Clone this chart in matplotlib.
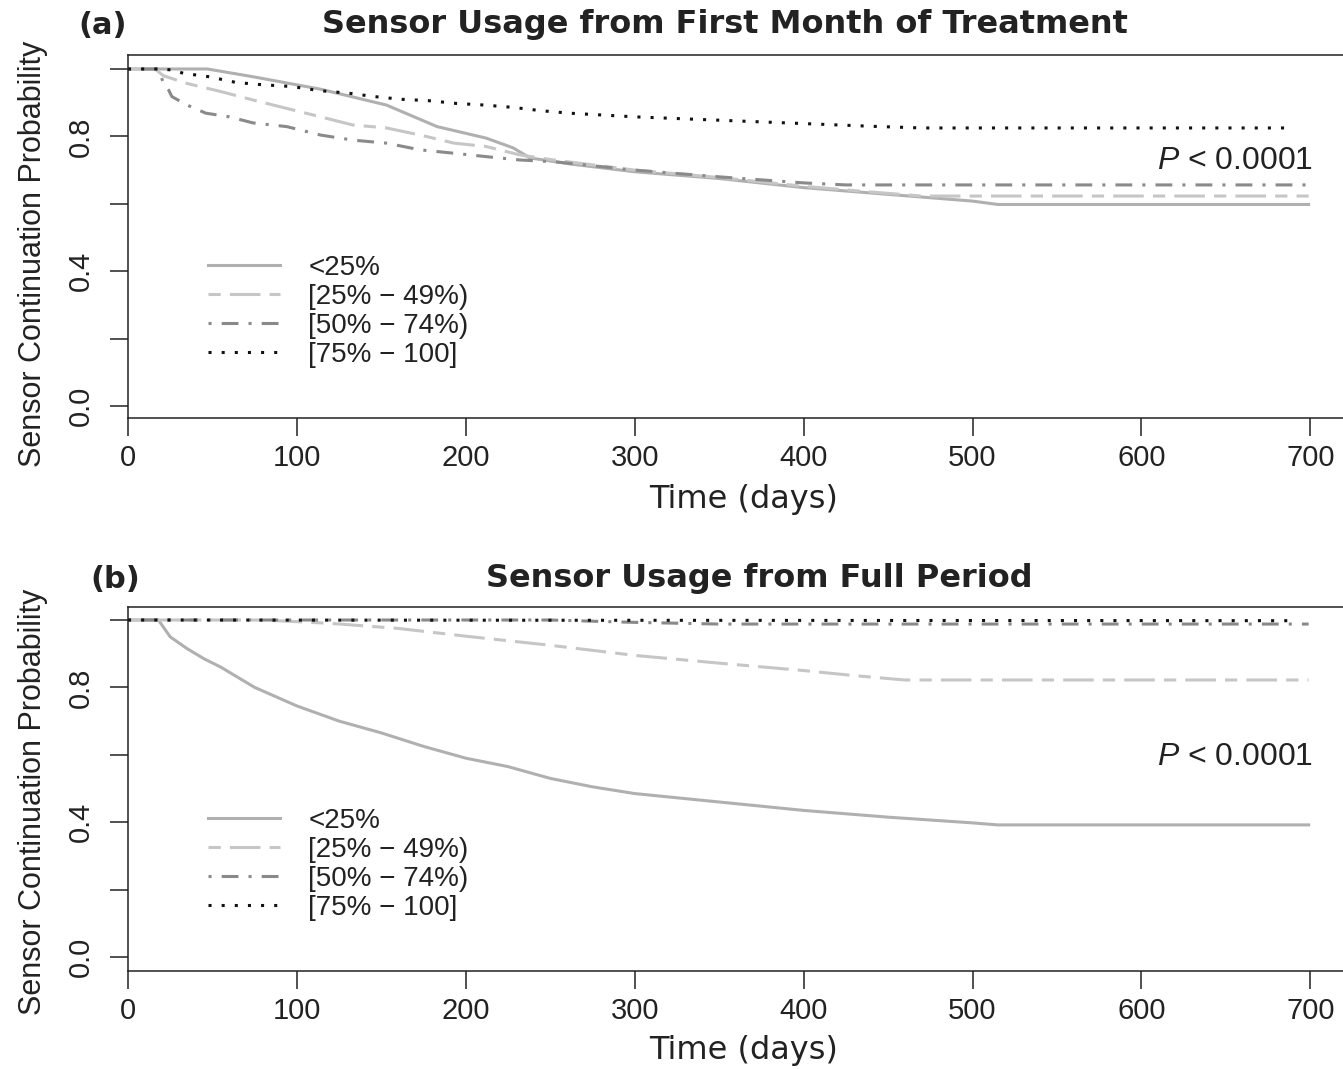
import matplotlib
matplotlib.use('Agg')
import matplotlib.pyplot as plt

plt.rcParams['font.family'] = ['Liberation Sans', 'DejaVu Sans']
plt.rcParams['mathtext.fontset'] = 'custom'
plt.rcParams['mathtext.it'] = 'Liberation Sans:italic'
plt.rcParams['mathtext.rm'] = 'Liberation Sans'

groups = ['<25%', '[25% \u2212 49%)', '[50% \u2212 74%)', '[75% \u2212 100]']
colors = ['#b0b0b0', '#c6c6c6', '#8a8a8a', '#111111']
styles = ['-', (0, (4, 3, 10, 3)), (0, (1, 3.3, 5.5, 3.3)), (0, (1, 3.3))]

# panel (a): sensor usage from first month of treatment
a_lt25_t = [0, 47, 74, 114, 153, 183, 212, 228, 238, 262, 300, 350, 400, 450, 500, 515, 699]
a_lt25_s = [1.0, 1.0, 0.977, 0.94, 0.893, 0.829, 0.795, 0.766, 0.736, 0.718, 0.695, 0.675, 0.648, 0.628, 0.608, 0.598, 0.598]
a_25_t = [0, 16, 21, 35, 55, 74, 94, 114, 133, 153, 173, 193, 212, 232, 252, 300, 350, 400, 440, 470, 699]
a_25_s = [1.0, 1.0, 0.98, 0.957, 0.933, 0.908, 0.883, 0.858, 0.834, 0.825, 0.804, 0.78, 0.77, 0.745, 0.73, 0.70, 0.678, 0.652, 0.635, 0.623, 0.623]
a_50_t = [0, 18, 21, 24, 26, 35, 46, 60, 74, 94, 114, 133, 153, 173, 193, 212, 232, 252, 300, 350, 400, 425, 699]
a_50_s = [1.0, 1.0, 0.958, 0.938, 0.918, 0.893, 0.869, 0.858, 0.84, 0.829, 0.804, 0.789, 0.78, 0.76, 0.75, 0.74, 0.73, 0.725, 0.70, 0.68, 0.662, 0.656, 0.656]
a_75_t = [0, 20, 26, 33, 48, 64, 80, 97, 113, 131, 146, 162, 178, 194, 211, 228, 245, 261, 300, 350, 400, 440, 470, 688]
a_75_s = [1.0, 1.0, 0.997, 0.987, 0.977, 0.96, 0.953, 0.948, 0.936, 0.928, 0.918, 0.91, 0.906, 0.898, 0.893, 0.886, 0.876, 0.869, 0.858, 0.848, 0.838, 0.83, 0.825, 0.825]

# panel (b): sensor usage from full period
b_lt25_t = [0, 18, 25, 35, 45, 55, 75, 100, 125, 150, 175, 200, 225, 250, 275, 300, 350, 400, 450, 500, 515, 699]
b_lt25_s = [1.0, 1.0, 0.95, 0.915, 0.885, 0.86, 0.80, 0.745, 0.70, 0.665, 0.625, 0.59, 0.565, 0.53, 0.505, 0.485, 0.46, 0.435, 0.415, 0.398, 0.392, 0.392]
b_25_t = [0, 80, 120, 160, 200, 250, 300, 350, 400, 430, 460, 699]
b_25_s = [1.0, 1.0, 0.99, 0.975, 0.952, 0.925, 0.895, 0.872, 0.85, 0.835, 0.822, 0.822]
b_50_t = [0, 250, 300, 350, 699]
b_50_s = [1.0, 1.0, 0.993, 0.988, 0.988]
b_75_t = [0, 688]
b_75_s = [1.0, 0.998]

panels = [
    dict(tag='(a)', title='Sensor Usage from First Month of Treatment',
         t=[a_lt25_t, a_25_t, a_50_t, a_75_t], s=[a_lt25_s, a_25_s, a_50_s, a_75_s],
         pos=[128, 55, 418], ylim=(-0.0356, 1.0415), ptxt=0.727, ylab=254, xlab=500,
         top=25, tagx=78, titlex=725),
    dict(tag='(b)', title='Sensor Usage from Full Period',
         t=[b_lt25_t, b_25_t, b_50_t, b_75_t], s=[b_lt25_s, b_25_s, b_50_s, b_75_s],
         pos=[128, 607, 971], ylim=(-0.0415, 1.0386), ptxt=0.593, ylab=802, xlab=1050,
         top=579, tagx=90, titlex=759),
]

W, H = 1343, 1069
fig = plt.figure(figsize=(W / 100, H / 100), dpi=100)

for p in panels:
    left, top, bot = p['pos']
    ax = fig.add_axes([left / W, 1 - bot / H, (1361 - left) / W, (bot - top) / H])
    for t, s, lab, c, ls in zip(p['t'], p['s'], groups, colors, styles):
        ax.plot(t, s, color=c, linestyle=ls, lw=2.2, label=lab)
    ax.set_xlim(0, 730)
    ax.set_ylim(*p['ylim'])
    ax.set_xticks([0, 100, 200, 300, 400, 500, 600, 700])
    ax.set_yticks([0, 0.2, 0.4, 0.6, 0.8, 1.0])
    ax.set_yticklabels(['0.0', '', '0.4', '', '0.8', ''])
    ax.tick_params(direction='out', length=13, width=1.1, labelsize=21, colors='#222222')
    ax.tick_params(axis='x', pad=6)
    ax.tick_params(axis='y', pad=11)
    for lb in ax.get_yticklabels():
        lb.set_rotation(90)
        lb.set_va('center')
    for sp in ax.spines.values():
        sp.set_linewidth(1.1)
        sp.set_color('#222222')
    ax.text(701.7, p['ptxt'], '$P$ < 0.0001', ha='right', va='center', fontsize=23, color='#222222')
    ax.legend(loc='upper left', bbox_to_anchor=(0.065, 0.449), frameon=False, fontsize=20,
              handlelength=2.6, handletextpad=1.0, labelspacing=0.11, borderpad=0, borderaxespad=0,
              labelcolor='#222222')
    fig.text(p['tagx'] / W, 1 - p['top'] / H, p['tag'], ha='left', va='center', fontsize=22,
             fontweight='bold', family='DejaVu Sans', color='#222222')
    fig.text(p['titlex'] / W, 1 - p['top'] / H, p['title'], ha='center', va='center', fontsize=23,
             fontweight='bold', family='DejaVu Sans', color='#222222')
    fig.text(744 / W, 1 - p['xlab'] / H, 'Time (days)', ha='center', va='center', fontsize=23,
             family='DejaVu Sans', color='#222222')
    fig.text(33 / W, 1 - p['ylab'] / H, 'Sensor Continuation Probability', ha='center', va='center',
             rotation=90, fontsize=22, color='#222222')

fig.savefig('out.png', dpi=100)
